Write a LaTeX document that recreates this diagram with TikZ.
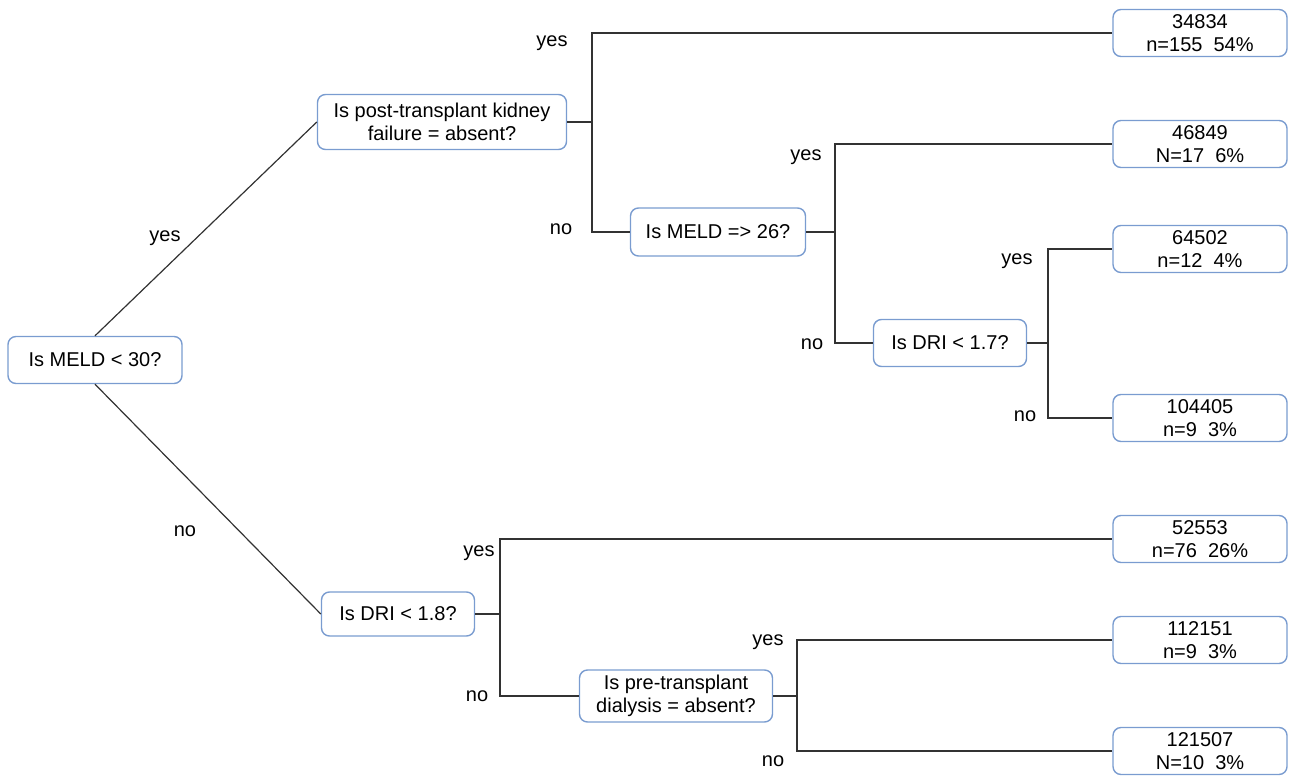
\documentclass[tikz,border=0pt]{standalone}
\usepackage{fontspec}
\setmainfont{Liberation Sans}
\usetikzlibrary{positioning,calc}
\definecolor{boxblue}{RGB}{122,156,208}
\definecolor{edgegray}{RGB}{50,50,50}

\begin{document}
\begin{tikzpicture}[
  x=0.5pt, y=-0.5pt,
  test/.style={rectangle, draw=boxblue, line width=0.7pt, rounded corners=4pt, align=center,
    inner sep=2pt, minimum height=23.5pt, font=\fontsize{10}{11.5}\selectfont},
  leaf/.style={test, minimum width=87pt},
  lbl/.style={font=\fontsize{10}{11.5}\selectfont, inner sep=0pt},
  edge/.style={draw=edgegray, line width=0.6pt}
]
\useasboundingbox (0,0) rectangle (1290,776);

% questions
\node[test, minimum width=87pt] (meld30) at (95,360) {Is MELD < 30?};
\node[test, minimum width=124.5pt, minimum height=27.5pt] (kidney) at (442,122)
  {Is post-transplant kidney\\failure = absent?};
\node[test, minimum width=87.5pt, minimum height=24pt] (meld26) at (718,232) {Is MELD => 26?};
\node[test, minimum width=76.5pt] (dri17) at (950,343) {Is DRI < 1.7?};
\node[test, minimum width=76.5pt, minimum height=22pt] (dri18) at (398,614) {Is DRI < 1.8?};
\node[test, minimum width=96.5pt, minimum height=26pt] (dialysis) at (676,696)
  {Is pre-transplant\\dialysis = absent?};

% leaves
\node[leaf] (leafa) at (1200,33)  {34834\\n=155\ \ 54\%};
\node[leaf] (leafb) at (1200,144) {46849\\N=17\ \ 6\%};
\node[leaf] (leafc) at (1200,249) {64502\\n=12\ \ 4\%};
\node[leaf] (leafd) at (1200,418) {104405\\n=9\ \ 3\%};
\node[leaf] (leafe) at (1200,539) {52553\\n=76\ \ 26\%};
\node[leaf] (leaff) at (1200,640) {112151\\n=9\ \ 3\%};
\node[leaf] (leafg) at (1200,751) {121507\\N=10\ \ 3\%};

% forks
\coordinate (kfork) at (592,122);
\coordinate (mfork) at (835,232);
\coordinate (dfork) at (1048,343);
\coordinate (rfork) at (500,614);
\coordinate (pfork) at (797,696);

% edges
\draw[edge] (meld30.north) -- (kidney.west);
\draw[edge] (meld30.south) -- (dri18.west);
\draw[edge] (kidney.east) -- (kfork) |- (leafa.west);
\draw[edge] (kfork) |- (meld26.west);
\draw[edge] (meld26.east) -- (mfork) |- (leafb.west);
\draw[edge] (mfork) |- (dri17.west);
\draw[edge] (dri17.east) -- (dfork) |- (leafc.west);
\draw[edge] (dfork) |- (leafd.west);
\draw[edge] (dri18.east) -- (rfork) |- (leafe.west);
\draw[edge] (rfork) |- (dialysis.west);
\draw[edge] (dialysis.east) -- (pfork) |- (leaff.west);
\draw[edge] (pfork) |- (leafg.west);

% branch labels
\node[lbl] (y1) at (165,238) {yes};
\node[lbl] (n1) at (185,531) {no};
\node[lbl] (y2) at (552,43) {yes};
\node[lbl] (n2) at (561,229) {no};
\node[lbl] (y3) at (806,157) {yes};
\node[lbl] (n3) at (812,344) {no};
\node[lbl] (y4) at (1017,261) {yes};
\node[lbl] (n4) at (1025,416) {no};
\node[lbl] (y5) at (479,553) {yes};
\node[lbl] (n5) at (477,696) {no};
\node[lbl] (y6) at (768,642) {yes};
\node[lbl] (n6) at (773,761) {no};

\end{tikzpicture}
\end{document}
